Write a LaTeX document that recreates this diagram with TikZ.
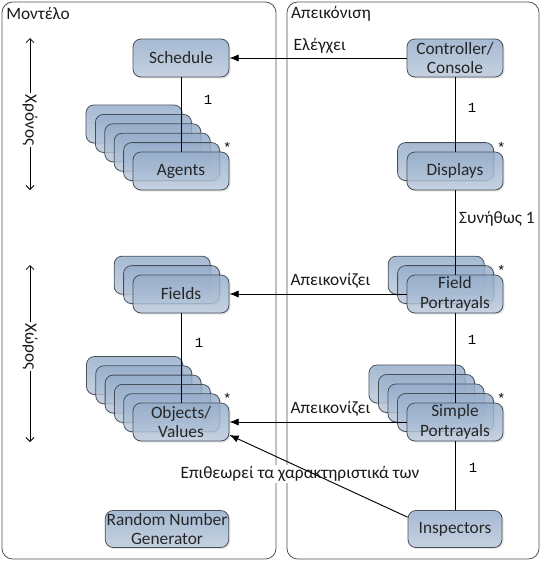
\documentclass[tikz,border=0pt]{standalone}
\usepackage{fontspec}
\setmainfont{Carlito}
\setmonofont{Liberation Mono}
\usetikzlibrary{shapes,positioning,calc,shadows,arrows.meta}
\definecolor{boxtop}{RGB}{150,175,206}
\definecolor{boxbot}{RGB}{190,205,224}
\definecolor{boxline}{RGB}{70,78,88}
\definecolor{panelline}{RGB}{80,80,80}

\begin{document}
\begin{tikzpicture}
  [x=0.75pt,y=-0.75pt,font=\fontsize{13pt}{14.5pt}\selectfont,
   boxN/.style={rectangle,rounded corners=6pt,draw=boxline,line width=0.6pt,
     top color=boxtop,bottom color=boxbot,fill opacity=0.8,text opacity=1,
     minimum width=72pt,minimum height=28.5pt,inner sep=1pt,align=center,text=black!85,
     drop shadow={shadow xshift=1.2pt,shadow yshift=-1.2pt,opacity=0.2}},
   panelN/.style={draw=panelline,rounded corners=8pt,line width=0.6pt},
   numN/.style={font=\ttfamily\fontsize{10.5pt}{12pt}\selectfont,inner sep=1pt},
   labN/.style={inner sep=1pt,text=black!90},
   lineN/.style={line width=0.7pt},
   arrN/.style={-{Latex[length=7pt,width=5.5pt]},line width=0.7pt},
   spanN/.style={{Straight Barb[length=3pt,width=6pt]}-{Straight Barb[length=3pt,width=6pt]},line width=0.6pt}]

  \useasboundingbox (0,0) rectangle (541,561);

  % the two panels
  \draw[panelN] (2,2) rectangle (276,559);
  \draw[panelN] (287,2) rectangle (539,559);
  \node[labN] (tModel) at (38,13) {Μοντέλο};
  \node[labN] (tView) at (331,14) {Απεικόνιση};

  % model side
  \node[boxN] (Schedule) at (181,58) {Schedule};
  \foreach \k in {5,4,...,1}
    \node[boxN] at (181-9.4*\k,171-9.4*\k) {};
  \node[boxN] (Agents) at (181,171) {Agents};
  \foreach \k in {2,1}
    \node[boxN] at (181-9.4*\k,294-9.4*\k) {};
  \node[boxN] (Fields) at (181,294) {Fields};
  \foreach \k in {5,4,...,1}
    \node[boxN] at (181-9.3*\k,422-9.3*\k) {};
  \node[boxN] (Objects) at (181,422) {Objects/\\Values};
  \node[boxN,minimum width=91.5pt,minimum height=27.75pt] (RNG) at (167,529) {Random Number\\Generator};

  % view side
  \node[boxN] (Controller) at (455,58) {Controller/\\Console};
  \node[boxN] at (455-9.4,171-9.4) {};
  \node[boxN] (Displays) at (455,171) {Displays};
  \foreach \k in {2,1}
    \node[boxN] at (455-9.4*\k,294-9.4*\k) {};
  \node[boxN] (FieldP) at (455,294) {Field\\Portrayals};
  \foreach \k in {4,3,...,1}
    \node[boxN] at (455-9.5*\k,422-9.5*\k) {};
  \node[boxN] (SimpleP) at (455,422) {Simple\\Portrayals};
  \node[boxN,minimum width=70.5pt,minimum height=27.75pt] (Inspectors) at (455,529) {Inspectors};

  % multiplicities
  \draw[lineN] (Schedule) -- (Agents);
  \draw[lineN] (Fields) -- (Objects);
  \draw[lineN] (Controller) -- (Displays);
  \draw[lineN] (Displays) -- (FieldP);
  \draw[lineN] (FieldP) -- (SimpleP);
  \draw[lineN] (SimpleP) -- (Inspectors);
  \node[numN] (nAgents) at (208,100) {1};
  \node[numN] (nObjects) at (199,343) {1};
  \node[numN] (nDisplays) at (472,108) {1};
  \node[labN] (nFieldP) at (497,219) {Συνήθως 1};
  \node[numN] (nSimpleP) at (472,340) {1};
  \node[numN] (nInspect) at (473,468) {1};
  \foreach \n in {Agents,Objects,Displays,FieldP,SimpleP}
    \node[numN] at ([shift={(-2,-4)}]\n.north east) {*};

  % associations
  \draw[arrN] (Controller.west) -- node[labN,pos=0.49,above=2pt] (lCtrl) {Ελέγχει} (Schedule.east);
  \draw[arrN] (FieldP.west) -- node[labN,pos=0.43,above=3pt] (lField) {Απεικονίζει} (Fields.east);
  \draw[arrN] (SimpleP.west) -- node[labN,pos=0.43,above=3pt] (lSimple) {Απεικονίζει} (Objects.east);
  \node[labN,fill=white] (lInspect) at (300,474) {Επιθεωρεί τα χαρακτηριστικά των};
  \draw[arrN] (Inspectors.166) -- (Objects.-15);

  % time and space
  \coordinate (timeT) at (30,38);
  \coordinate (timeB) at (30,190);
  \draw[spanN] (timeT) -- node[labN,pos=0.54,fill=white,rotate=-90] (lTime) {Χρόνος} (timeB);
  \coordinate (spaceT) at (30,265);
  \coordinate (spaceB) at (30,442);
  \draw[spanN] (spaceT) -- node[labN,pos=0.46,fill=white,rotate=-90] (lSpace) {Χώρος} (spaceB);

\end{tikzpicture}
\end{document}
